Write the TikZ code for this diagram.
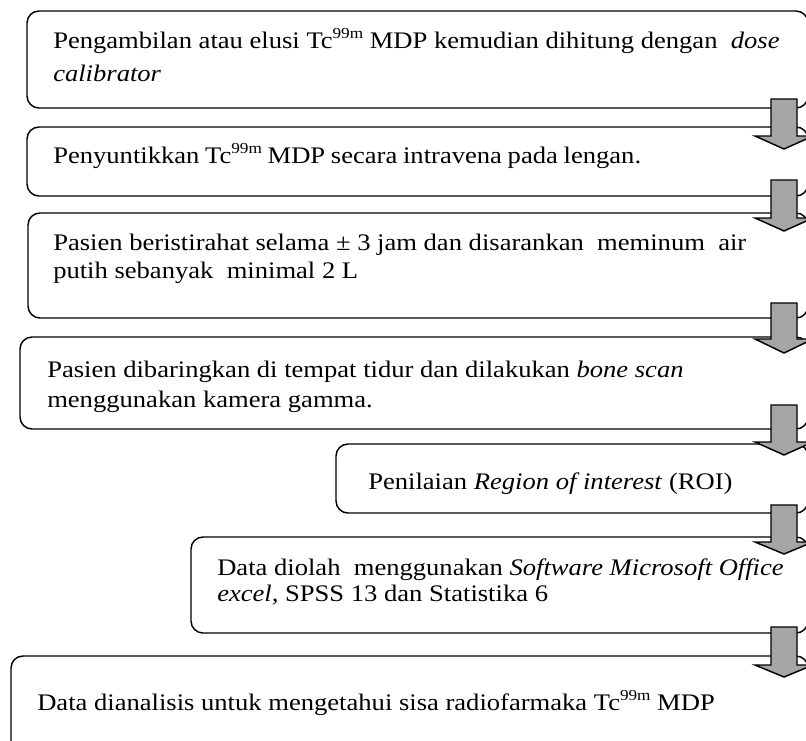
\documentclass[tikz,border=0pt]{standalone}
\usepackage{fontspec}
\setmainfont{Liberation Serif}[FakeStretch=1.12]
\usetikzlibrary{fit}
\newcommand\supnum[1]{\raisebox{0.42em}{\fontsize{11.5pt}{12pt}\selectfont #1}}
\begin{document}
\begin{tikzpicture}[x=0.75pt,y=-0.75pt,
  stepbox/.style={draw=black,line width=1.1pt,rounded corners=9pt,inner sep=0pt},
  txt/.style={anchor=base west,inner sep=0pt,font=\fontsize{17.8pt}{22pt}\selectfont},
  blockarrow/.style={draw=black,line width=1.1pt,fill=black!35,line join=miter}]
\useasboundingbox (0,0) rectangle (806,740);
\clip (0,0) rectangle (806,740);
% boxes
\node[stepbox,fit={(27,11) (808,108)}] (b1) {};
\node[stepbox,fit={(27,127) (808,196)}] (b2) {};
\node[stepbox,fit={(28,213) (808,318)}] (b3) {};
\node[stepbox,fit={(20,337) (808,429)}] (b4) {};
\node[stepbox,fit={(336,444) (808,513)}] (b5) {};
\node[stepbox,fit={(191,537) (808,633)}] (b6) {};
\node[stepbox,fit={(11,656) (808,770)}] (b7) {};
% texts
\node[txt] (t1a) at (53,48) {Pengambilan atau elusi Tc\supnum{99m} MDP kemudian dihitung dengan \ \textit{dose}};
\node[txt] (t1b) at (53,81) {\textit{calibrator}};
\node[txt] (t2) at (53,163) {\spaceskip=4.3pt Penyuntikkan Tc\supnum{99m} MDP secara intravena pada lengan.};
\node[txt] (t3a) at (53,250) {Pasien beristirahat selama \char"00B1\ 3 jam dan disarankan \ meminum \ air};
\node[txt] (t3b) at (53,278) {putih sebanyak \ minimal 2 L};
\node[txt] (t4a) at (47,377) {Pasien dibaringkan di tempat tidur dan dilakukan \textit{bone scan}};
\node[txt] (t4b) at (47,407) {menggunakan kamera gamma.};
\node[txt] (t5) at (368,489) {Penilaian \textit{Region of interest} (ROI)};
\node[txt] (t6a) at (217,575) {Data diolah \ menggunakan \textit{Software Microsoft Office}};
\node[txt] (t6b) at (217,601) {\textit{excel,} SPSS 13 dan Statistika 6};
\node[txt] (t7) at (37,710) {Data dianalisis untuk mengetahui sisa radiofarmaka Tc\supnum{99m} MDP};
% block arrows
\foreach \yt/\yh/\yp in {99/136/149,180/218/231,303/339/353,405/442/455,505/542/554,627/665/677}
  \draw[blockarrow] (771,\yt) -- (797,\yt) -- (797,\yh) -- (813,\yh) -- (784,\yp) -- (755,\yh) -- (771,\yh) -- cycle;
\end{tikzpicture}
\end{document}
